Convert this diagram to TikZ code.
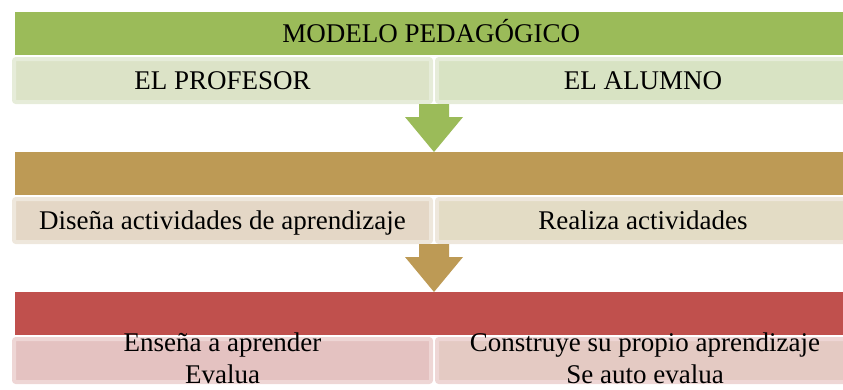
\documentclass[tikz,border=0pt]{standalone}
\usepackage{fontspec}
\setmainfont{Liberation Serif}
\usetikzlibrary{calc}
\definecolor{barA}{HTML}{9BBB59}
\definecolor{barB}{HTML}{BD9A55}
\definecolor{barC}{HTML}{C0504D}
\definecolor{subAl}{HTML}{DCE3C7}
\definecolor{subAr}{HTML}{D8E3C3}
\definecolor{rimA}{HTML}{E6ECD9}
\definecolor{subBl}{HTML}{E4D7C6}
\definecolor{subBr}{HTML}{E3DCC5}
\definecolor{rimB}{HTML}{EEE7DC}
\definecolor{subCl}{HTML}{E4C2C1}
\definecolor{subCr}{HTML}{E4CAC3}
\definecolor{rimC}{HTML}{EED6D5}
\newcommand\blockarrow[3]{%
  \fill[#3] let \p1=(#1), \p2=(#2) in
    (\x1-15pt,\y1) -- (\x1+15pt,\y1) -- (\x1+15pt,\y2+35pt) -- (\x1+29pt,\y2+35pt)
    -- (\x1,\y2) -- (\x1-29pt,\y2+35pt) -- (\x1-15pt,\y2+35pt) -- cycle;}
\begin{document}
\begin{tikzpicture}[x=1pt,y=-1pt,
  font=\fontsize{27}{33}\selectfont,
  bar/.style={fill=#1, draw=none, inner sep=0pt, minimum width=832pt, minimum height=43pt, anchor=north west},
  subbox/.style 2 args={fill=#1, draw=#2, line width=4pt, rounded corners=2pt, inner sep=0pt,
     minimum height=43pt, anchor=north west},
  lbox/.style={minimum width=417pt},
  rbox/.style={minimum width=412pt},
  txt/.style={inner sep=0pt, text height=18pt, text depth=0pt, text=black}]
\useasboundingbox (0,0) rectangle (843,389);
% row 1
\node[bar=barA] (b1) at (15,12) {};
\node[txt] (t1) at (b1.center) {MODELO PEDAGÓGICO};
\node[subbox={subAl}{rimA}, lbox] (l1) at (12,57) {};
\node[subbox={subAr}{rimA}, rbox] (r1) at (435,57) {};
\node[txt] (tl1) at (l1.center) {EL PROFESOR};
\node[txt] (tr1) at (r1.center) {EL ALUMNO};
% row 2
\node[bar=barB] (b2) at (15,152) {};
\node[subbox={subBl}{rimB}, lbox] (l2) at (12,197) {};
\node[subbox={subBr}{rimB}, rbox] (r2) at (435,197) {};
\node[txt] (tl2) at (l2.center) {Diseña actividades de aprendizaje};
\node[txt] (tr2) at (r2.center) {Realiza actividades};
% row 3
\node[bar=barC] (b3) at (15,292) {};
\node[subbox={subCl}{rimC}, lbox] (l3) at (12,337) {};
\node[subbox={subCr}{rimC}, rbox] (r3) at (435,337) {};
\node[txt] (tl3a) at ($(l3.center)+(0,-18)$) {Enseña a aprender};
\node[txt] (tl3b) at ($(l3.center)+(0,14)$) {Evalua};
\node[txt] (tr3a) at ($(r3.center)+(2,-18)$) {Construye su propio aprendizaje};
\node[txt] (tr3b) at ($(r3.center)+(2,14)$) {Se auto evalua};
% arrows
\coordinate (a1) at ($(l1.south east)!0.5!(r1.south west)$);
\coordinate (a2) at ($(l2.south east)!0.5!(r2.south west)$);
\blockarrow{a1}{b2.north}{barA}
\blockarrow{a2}{b3.north}{barB}
\end{tikzpicture}
\end{document}
